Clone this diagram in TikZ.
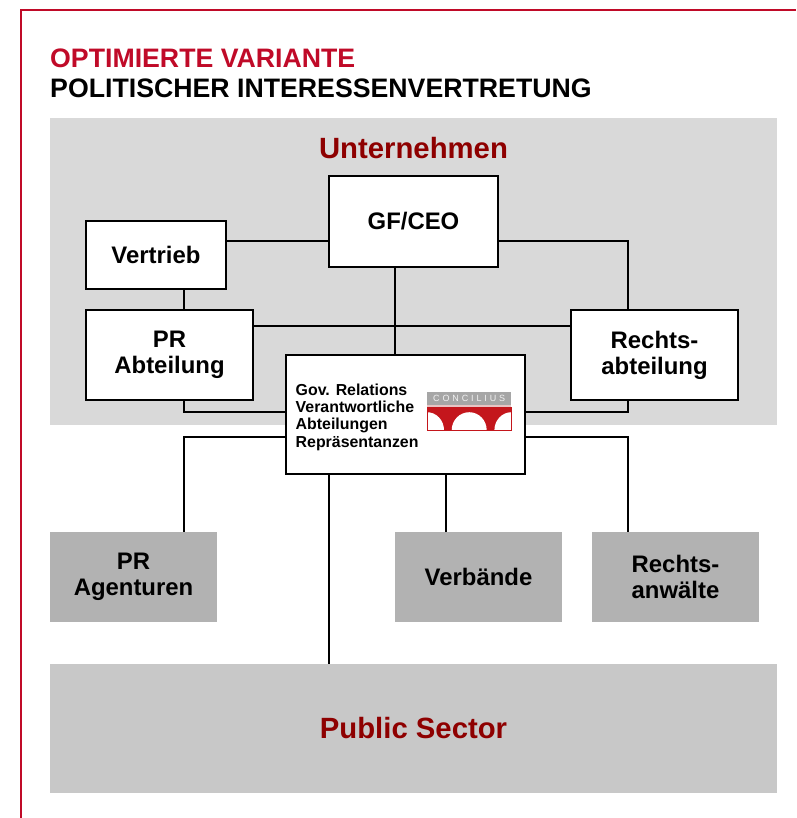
\documentclass[tikz,border=0pt]{standalone}
\usepackage{fontspec}
\setmainfont{Liberation Sans}
\usepackage{tikz}
\usetikzlibrary{positioning}
\definecolor{framered}{HTML}{C00A28}
\definecolor{darkred}{HTML}{8E0000}
\definecolor{panelgray}{HTML}{D9D9D9}
\definecolor{extgray}{HTML}{B2B2B2}
\definecolor{publicgray}{HTML}{C8C8C8}
\definecolor{logogray}{HTML}{A6A6A6}
\definecolor{logored}{HTML}{C4161C}
\definecolor{logopink}{HTML}{E8C4C4}

\begin{document}
\begin{tikzpicture}[
    x=1pt, y=1pt,
    node distance=21pt,
    panel/.style={rectangle, inner sep=0pt, outer sep=0pt, text=darkred, font=\fontsize{29.3}{32}\selectfont\bfseries},
    block/.style={rectangle, draw=black, line width=1.9pt, fill=white, inner sep=0pt, outer sep=0pt, align=center, minimum width=167pt, minimum height=90pt, font=\fontsize{23.9}{26}\selectfont\bfseries},
    extern/.style={block, draw=none, fill=extgray},
    link/.style={line width=1.7pt}
]
    \useasboundingbox (0,0) rectangle (796,-818);
    \draw[framered, line width=1.8pt] (796,-10) -- (21,-10) -- (21,-818);

    \node[anchor=north west, inner sep=0pt, align=left, font=\fontsize{26.7}{30}\selectfont\bfseries] (title) at (50,-49)
        {\textcolor{framered}{OPTIMIERTE VARIANTE}\\POLITISCHER INTERESSENVERTRETUNG};

    \node[panel, fill=panelgray, anchor=north west, minimum width=727pt, minimum height=307pt] (firm) at (50,-118) {};
    \node[panel, below=19pt of firm.north] (firmlabel) {Unternehmen};

    % company
    \node[block, anchor=north west, minimum width=169pt, minimum height=91pt] (ceo) at (329,-176) {GF/CEO};
    \node[block, anchor=north west, minimum width=140pt, minimum height=68pt] (sales) at (86,-221) {Vertrieb};
    \node[block, below=21pt of sales.south west, anchor=north west] (pr) {PR\\Abteilung};
    \node[block, right=318pt of pr] (legal) {Rechts-\\abteilung};
    \node[block, anchor=north west, minimum width=239pt, minimum height=119pt] (gov) at (286,-355) {};
    \node[anchor=west, inner sep=0pt, align=left, font=\fontsize{15.9}{17.3}\selectfont\bfseries] (govlabel) at ([xshift=9.5pt,yshift=-2.5pt]gov.west)
        {Gov. Relations\\Verantwortliche\\Abteilungen\\Repräsentanzen};

    % logo
    \node[rectangle, fill=logogray, inner sep=0pt, anchor=north west, minimum width=84pt, minimum height=12.5pt, text=white!85!logogray, font=\fontsize{9}{9}\selectfont\addfontfeature{LetterSpace=32}] (logotop) at (427,-392) {CONCILIUS};
    \node[rectangle, fill=logopink, inner sep=0pt, minimum width=84pt, minimum height=1.5pt, below=0pt of logotop] (logostripe) {};
    \node[rectangle, fill=logored, inner sep=0pt, minimum width=84pt, minimum height=23pt, below=0pt of logostripe] (logobase) {};
    \begin{scope}
        \clip (logobase.south west) rectangle (logobase.north east);
        \fill[white] (logobase.south west) ellipse (17pt and 18pt);
        \fill[white] (logobase.south) ellipse (17.5pt and 18pt);
        \fill[white] (logobase.south east) ellipse (17pt and 18pt);
    \end{scope}
    \draw[logored, line width=0.5pt] (logobase.south west) rectangle (logobase.north east);

    % outside partners
    \node[extern, anchor=north west] (agencies) at (50,-532) {PR\\Agenturen};
    \node[extern, right=178pt of agencies] (assoc) {Verbände};
    \node[extern, right=30pt of assoc] (lawyers) {Rechts-\\anwälte};
    \node[panel, fill=publicgray, anchor=north west, minimum width=727pt, minimum height=129pt] (public) at (50,-664) {Public Sector};

    \draw[link] ([yshift=14pt]sales.east) -- ([yshift=14pt]sales.east -| ceo.west);
    \draw[link] ([yshift=-19.5pt]ceo.east) -| ([xshift=-26.5pt]legal.north);
    \draw[link] ([xshift=-18.5pt]ceo.south) -- ([xshift=-18.5pt]ceo.south |- gov.north);
    \draw[link] ([xshift=28pt]sales.south) -- ([xshift=28pt]sales.south |- pr.north);
    \draw[link] ([yshift=29pt]pr.east) -- ([yshift=29pt]pr.east -| legal.west);
    \draw[link] ([xshift=28pt]sales.south |- pr.south) |- ([yshift=2.5pt]gov.west);
    \draw[link] ([xshift=-26.5pt]legal.south) |- ([yshift=2.5pt]gov.east);
    \draw[link] ([yshift=-22.5pt]gov.west) -| ([xshift=50.5pt]agencies.north);
    \draw[link] ([yshift=-22.5pt]gov.east) -| ([xshift=-47.5pt]lawyers.north);
    \draw[link] (assoc.north -| 446,0) -- (gov.south -| 446,0);
    \draw[link] (gov.south -| 329,0) -- (public.north -| 329,0);
\end{tikzpicture}
\end{document}
